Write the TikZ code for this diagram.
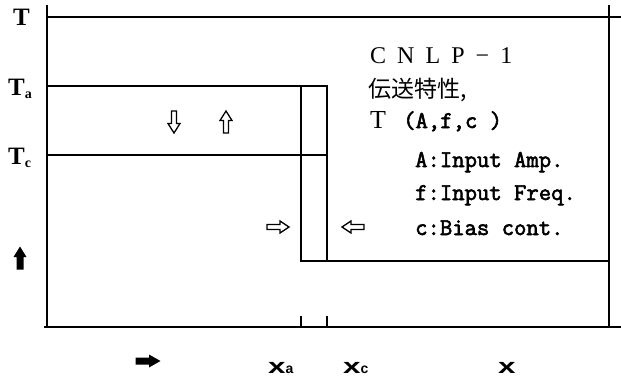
\documentclass[tikz,border=0pt]{standalone}
\usepackage{fontspec}
\usepackage{graphicx}
\setmainfont{Liberation Serif}
\newfontfamily\keskeny[FakeBold=2.5]{Latin Modern Mono}
\newfontfamily\jpbetu{Noto Sans CJK JP}
\newfontfamily\talpbetu{Liberation Sans}
\usetikzlibrary{positioning}
\newcommand{\alsob}[1]{\raisebox{-3pt}{\fontsize{14}{14}\selectfont\bfseries #1}}
\newcommand{\tengx}[1]{\scalebox{1.5}[1]{\talpbetu\bfseries x}{\talpbetu\bfseries\fontsize{14}{14}\selectfont #1}}
\tikzset{
  vonal/.style={line width=1.5pt},
  felirat/.style={inner sep=0pt,anchor=base west,font=\bfseries\fontsize{25}{25}\selectfont},
  szoveg/.style={inner sep=0pt,anchor=base west,font=\keskeny\fontsize{24}{24}\selectfont},
  urnyil/.style={draw,line width=1.3pt,fill=white,line join=miter},
  telinyil/.style={fill=black},
  tengf/.style={inner sep=0pt,anchor=base west,font=\fontsize{21}{21}\selectfont},
}

\begin{document}
\begin{tikzpicture}[x=1pt,y=-1pt]
  \useasboundingbox (0,0) rectangle (621,376);
  % tengelyek es keret
  \coordinate (bf) at (47,5);
  \coordinate (ba) at (47,327);
  \coordinate (ja) at (621,327);
  \coordinate (jf) at (609,5);
  \coordinate (jt) at (609,327);
  \draw[vonal] (bf) -- (ba);
  \draw[vonal] (44,327) -- (ja);
  \draw[vonal] (jf) -- (jt);
  \draw[vonal] (47,17) -- (621,17);
  % Ta es Tc szint
  \coordinate (xa) at (301,261);
  \coordinate (xc) at (327,261);
  \draw[vonal] (47,86) -- (327,86) -- (xc);
  \draw[vonal] (47,155) -- (327,155);
  \draw[vonal] (301,86) -- (xa) -- (609,261);
  \draw[vonal] (301,316) -- (301,327);
  \draw[vonal] (327,316) -- (327,327);
  % nyilak
  \draw[urnyil,shift={(174,122)}] (-2.5,-11) -- (2.5,-11) -- (2.5,1.5) -- (6,1.5) -- (0,11) -- (-6,1.5) -- (-2.5,1.5) -- cycle;
  \draw[urnyil,shift={(226,122)},yscale=-1] (-2.5,-11) -- (2.5,-11) -- (2.5,1.5) -- (6,1.5) -- (0,11) -- (-6,1.5) -- (-2.5,1.5) -- cycle;
  \draw[urnyil,shift={(278,227)}] (-11,-2.5) -- (2,-2.5) -- (2,-6) -- (11,0) -- (2,6) -- (2,2.5) -- (-11,2.5) -- cycle;
  \draw[urnyil,shift={(353,227)},xscale=-1] (-11,-2.5) -- (2,-2.5) -- (2,-6) -- (11,0) -- (2,6) -- (2,2.5) -- (-11,2.5) -- cycle;
  \fill[telinyil,shift={(20,258)}] (-3.5,11.5) -- (-3.5,-1) -- (-6.5,-1) -- (0,-11.5) -- (6.5,-1) -- (3.5,-1) -- (3.5,11.5) -- cycle;
  \fill[telinyil,shift={(148,361)}] (-12.5,-3.5) -- (1,-3.5) -- (1,-6.5) -- (12.5,0) -- (1,6.5) -- (1,3.5) -- (-12.5,3.5) -- cycle;
  % feliratok
  \node[felirat] (T) at (13,25) {T};
  \node[felirat] (Ta) at (8,95) {T\alsob{a}};
  \node[felirat] (Tc) at (8,164) {T\alsob{c}};
  \node[tengf] (Xa) at (268,373) {\tengx{a}};
  \node[tengf] (Xc) at (343,373) {\tengx{c}};
  \node[tengf] (X) at (498,373) {\scalebox{1.5}[1]{\talpbetu\bfseries x}};
  % jelmagyarazat
  \node[felirat,font=\fontsize{24}{24}\selectfont\addfontfeature{LetterSpace=46}] (cim) at (370,63) {CNLP−1};
  \node[felirat,font=\jpbetu\fontsize{23}{23}\selectfont] (atv) at (368,97) {伝送特性,};
  \node[felirat,font=\fontsize{26}{26}\selectfont] (fv) at (370,128) {T};
  \node[szoveg] (arg) at (403,128) {(A,f,c )};
  \node[szoveg] (A) at (415,167) {A:Input Amp.};
  \node[szoveg] (f) at (415,200) {f:Input Freq.};
  \node[szoveg] (c) at (415,235) {c:Bias cont.};
\end{tikzpicture}
\end{document}
